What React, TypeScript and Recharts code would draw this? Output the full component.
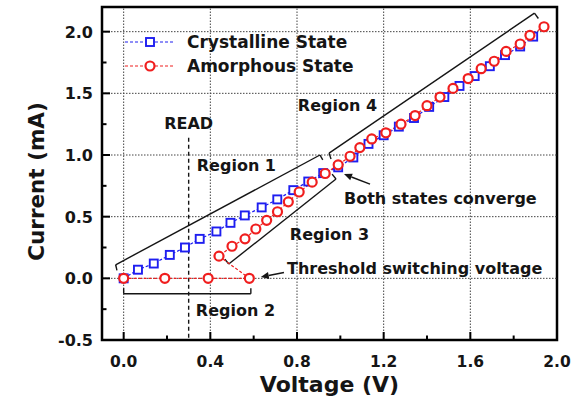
import React from 'react';
import { LineChart, Line, XAxis, YAxis, ReferenceLine, ReferenceDot, ReferenceArea, Legend } from 'recharts';

// ---- data ----
const crystallineV = [0, 0.066, 0.139, 0.213, 0.283, 0.351, 0.428, 0.493, 0.559, 0.637, 0.709, 0.783, 0.852, 0.921, 0.99, 1.06, 1.13, 1.2, 1.27, 1.34, 1.41, 1.48, 1.55, 1.62, 1.69, 1.76, 1.83, 1.89];
const crystallineI = [0, 0.07, 0.12, 0.19, 0.25, 0.32, 0.38, 0.45, 0.51, 0.575, 0.64, 0.715, 0.785, 0.853, 0.9, 0.98, 1.09, 1.16, 1.23, 1.3, 1.39, 1.47, 1.56, 1.64, 1.72, 1.81, 1.88, 1.96];
const amorphousV = [0, 0.19, 0.39, 0.58, 0.44, 0.5, 0.56, 0.61, 0.66, 0.71, 0.76, 0.81, 0.87, 0.93, 0.99, 1.045, 1.09, 1.145, 1.21, 1.28, 1.345, 1.4, 1.46, 1.52, 1.59, 1.65, 1.71, 1.765, 1.83, 1.875, 1.94];
const amorphousI = [0, 0, 0, 0, 0.18, 0.26, 0.32, 0.4, 0.47, 0.54, 0.62, 0.7, 0.78, 0.85, 0.92, 0.99, 1.06, 1.13, 1.18, 1.25, 1.32, 1.4, 1.47, 1.54, 1.62, 1.7, 1.76, 1.84, 1.9, 1.97, 2.04];

const xTicks = [0, 0.2, 0.4, 0.6, 0.8, 1.0, 1.2, 1.4, 1.6, 1.8, 2.0];
const yTicks = [-0.5, -0.25, 0, 0.25, 0.5, 0.75, 1.0, 1.25, 1.5, 1.75, 2.0];
const xGrid = [0, 0.4, 0.8, 1.2, 1.6];
const yGrid = [0, 0.5, 1.0, 1.5, 2.0];
const readVoltage = 0.3;

const seriesNames = ['Crystalline State', 'Amorphous State'];

// annotations (data coordinates)
const notes = [
  { text: 'READ', v: 0.3, i: 1.21, anchor: 'middle' },
  { text: 'Region 1', v: 0.3375, i: 0.87, anchor: 'start' },
  { text: 'Region 4', v: 0.804, i: 1.356, anchor: 'start' },
  { text: 'Both states converge', v: 1.017, i: 0.602, anchor: 'start' },
  { text: 'Region 3', v: 0.767, i: 0.31, anchor: 'start' },
  { text: 'Threshold switching voltage', v: 0.754, i: 0.035, anchor: 'start' },
  { text: 'Region 2', v: 0.333, i: -0.305, anchor: 'start' },
];
const bracketSegments = [
  [[-0.037, 0.11], [0.906, 1.0]], [[-0.037, 0.11], [-0.031, 0.065]], [[0.906, 1.0], [0.919, 0.96]],
  [[0.948, 1.015], [1.896, 2.15]], [[0.948, 1.015], [0.957, 0.967]], [[1.896, 2.15], [1.914, 2.107]],
  [[0.485, 0.116], [0.98, 0.805]], [[0.485, 0.116], [0.467, 0.156]], [[0.98, 0.805], [0.962, 0.845]],
  [[0, -0.125], [0.587, -0.125]], [[0, -0.125], [0, -0.08]], [[0.587, -0.125], [0.587, -0.08]],
];
const arrows = [
  [[0.74, 0.047], [0.633, 0.01]],
  [[1.137, 0.764], [1.017, 0.845]],
];

const crystalline = crystallineV.map((v, k) => ({ v, i: crystallineI[k] }));
const amorphous = amorphousV.map((v, k) => ({ v, i: amorphousI[k] }));

const BLUE = '#1e1ef0';
const RED = '#f01e1e';
const INK = '#151515';
const FONT = '"DejaVu Sans", sans-serif';

const XTick = (p: any) => {
  const val = p.payload.value;
  const major = Math.abs(val / 0.4 - Math.round(val / 0.4)) < 1e-6;
  return (
    <g>
      <line x1={p.x} x2={p.x} y1={p.y} y2={p.y - (major ? 8 : 4.5)} stroke="#000" strokeWidth={2} />
      {major && (
        <text x={p.x} y={p.y + 27} textAnchor="middle" fontFamily={FONT} fontWeight="bold" fontSize={15.5} fill={INK}>
          {val.toFixed(1)}
        </text>
      )}
    </g>
  );
};

const YTick = (p: any) => {
  const val = p.payload.value;
  const major = Math.abs(val * 2 - Math.round(val * 2)) < 1e-6;
  return (
    <g>
      <line x1={p.x} x2={p.x + (major ? 8 : 4.5)} y1={p.y} y2={p.y} stroke="#000" strokeWidth={2} />
      {major && (
        <text x={p.x - 9} y={p.y + 6} textAnchor="end" fontFamily={FONT} fontWeight="bold" fontSize={16} fill={INK}>
          {val.toFixed(1)}
        </text>
      )}
    </g>
  );
};

const XTitle = (p: any) => {
  const vb = p.viewBox || { x: 102, y: 340, width: 455 };
  return (
    <text x={vb.x + vb.width / 2} y={vb.y + 52} textAnchor="middle" fontFamily={FONT} fontWeight="bold" fontSize={22} fill={INK}>
      Voltage (V)
    </text>
  );
};

const YTitle = (p: any) => {
  const vb = p.viewBox || { x: 0, y: 7, height: 333 };
  const cx = 44;
  const cy = vb.y + vb.height / 2 + 8;
  return (
    <text x={cx} y={cy} transform={`rotate(-90, ${cx}, ${cy})`} textAnchor="middle" fontFamily={FONT} fontWeight="bold" fontSize={21.5} fill={INK}>
      Current (mA)
    </text>
  );
};

const SquareDot = (p: any) => {
  if (p.cx == null || p.cy == null) return <g key={p.index} />;
  return <rect key={p.index} x={p.cx - 4} y={p.cy - 4} width={8} height={8} fill="#fff" stroke={BLUE} strokeWidth={1.9} />;
};

const ArrowShape = (p: any) => {
  const { x1, y1, x2, y2 } = p;
  const ang = Math.atan2(y2 - y1, x2 - x1);
  const L = 8;
  const W = 3.5;
  const bx = x2 - L * Math.cos(ang);
  const by = y2 - L * Math.sin(ang);
  const pts = `${x2},${y2} ${bx - W * Math.sin(ang)},${by + W * Math.cos(ang)} ${bx + W * Math.sin(ang)},${by - W * Math.cos(ang)}`;
  return (
    <g>
      <line x1={x1} y1={y1} x2={bx} y2={by} stroke={INK} strokeWidth={1.5} />
      <polygon points={pts} fill={INK} />
    </g>
  );
};

const makeText = (text: string, anchor: string) => (p: any) => (
  <text x={p.cx} y={p.cy} textAnchor={anchor} fontFamily={FONT} fontWeight="bold" fontSize={16} fill={INK}>
    {text}
  </text>
);

const LegendContent = () => (
  <div style={{ fontFamily: FONT, fontWeight: 'bold', fontSize: 17, lineHeight: '24px', color: INK }}>
    {seriesNames.map((name, k) => (
      <div key={name} style={{ display: 'flex', alignItems: 'center', height: 24, whiteSpace: 'nowrap' }}>
        <svg width={56} height={16} style={{ display: 'block' }}>
          <line x1={3} x2={53} y1={8} y2={8} stroke={k === 0 ? BLUE : RED} strokeWidth={1.2} strokeDasharray="3 2" />
          {k === 0 ? (
            <rect x={24} y={4} width={8} height={8} fill="#fff" stroke={BLUE} strokeWidth={1.9} />
          ) : (
            <circle cx={28} cy={8} r={4.5} fill="#fff" stroke={RED} strokeWidth={2.2} />
          )}
        </svg>
        <span style={{ marginLeft: 9 }}>{name}</span>
      </div>
    ))}
  </div>
);

export default function App() {
  return (
    <div style={{ position: 'absolute', left: 0, top: 0, width: 582, height: 400, background: '#fff' }}>
      <LineChart width={582} height={400} margin={{ top: 7, right: 25, left: 0, bottom: 0 }}>
        <XAxis
          dataKey="v"
          type="number"
          domain={[-0.1, 2.0]}
          allowDataOverflow
          ticks={xTicks}
          interval={0}
          height={60}
          axisLine={false}
          tickLine={false}
          tickSize={0}
          tickMargin={0}
          tick={<XTick />}
          label={<XTitle />}
        />
        <YAxis
          dataKey="i"
          type="number"
          domain={[-0.5, 2.2]}
          allowDataOverflow
          ticks={yTicks}
          interval={0}
          width={102}
          axisLine={false}
          tickLine={false}
          tickSize={0}
          tickMargin={0}
          tick={<YTick />}
          label={<YTitle />}
        />
        {xGrid.map((x) => (
          <ReferenceLine key={'gx' + x} x={x} stroke="#444" strokeWidth={1} strokeDasharray="1.5 1.5" />
        ))}
        {yGrid.map((y) => (
          <ReferenceLine key={'gy' + y} y={y} stroke="#444" strokeWidth={1} strokeDasharray="1.5 1.5" />
        ))}
        <ReferenceArea x1={-0.1} x2={2.0} y1={-0.5} y2={2.2} fill="none" fillOpacity={0} stroke="#000" strokeWidth={2.5} ifOverflow="visible" />
        <ReferenceLine
          segment={[{ x: readVoltage, y: 1.14 }, { x: readVoltage, y: -0.5 }]}
          stroke={INK}
          strokeWidth={1.4}
          strokeDasharray="4 3"
          ifOverflow="visible"
        />
        {bracketSegments.map((s, k) => (
          <ReferenceLine
            key={'b' + k}
            segment={[{ x: s[0][0], y: s[0][1] }, { x: s[1][0], y: s[1][1] }]}
            stroke={INK}
            strokeWidth={1.4}
            ifOverflow="visible"
          />
        ))}
        <Line
          data={crystalline}
          dataKey="i"
          name={seriesNames[0]}
          stroke={BLUE}
          strokeWidth={1.2}
          strokeDasharray="3 2"
          dot={SquareDot}
          activeDot={false}
          isAnimationActive={false}
        />
        <Line
          data={amorphous}
          dataKey="i"
          name={seriesNames[1]}
          stroke={RED}
          strokeWidth={1.2}
          strokeDasharray="3 2"
          dot={{ r: 4.5, fill: '#fff', stroke: RED, strokeWidth: 2.2, strokeDasharray: '' }}
          activeDot={false}
          isAnimationActive={false}
        />
        {arrows.map((a, k) => (
          <ReferenceLine
            key={'a' + k}
            segment={[{ x: a[0][0], y: a[0][1] }, { x: a[1][0], y: a[1][1] }]}
            shape={ArrowShape}
            ifOverflow="visible"
          />
        ))}
        {notes.map((n) => (
          <ReferenceDot key={n.text} x={n.v} y={n.i} r={0} ifOverflow="visible" shape={makeText(n.text, n.anchor)} />
        ))}
        <Legend
          layout="vertical"
          align="center"
          verticalAlign="middle"
          content={<LegendContent />}
          wrapperStyle={{ left: 122, top: 30, width: 'auto', height: 'auto' }}
        />
      </LineChart>
    </div>
  );
}
